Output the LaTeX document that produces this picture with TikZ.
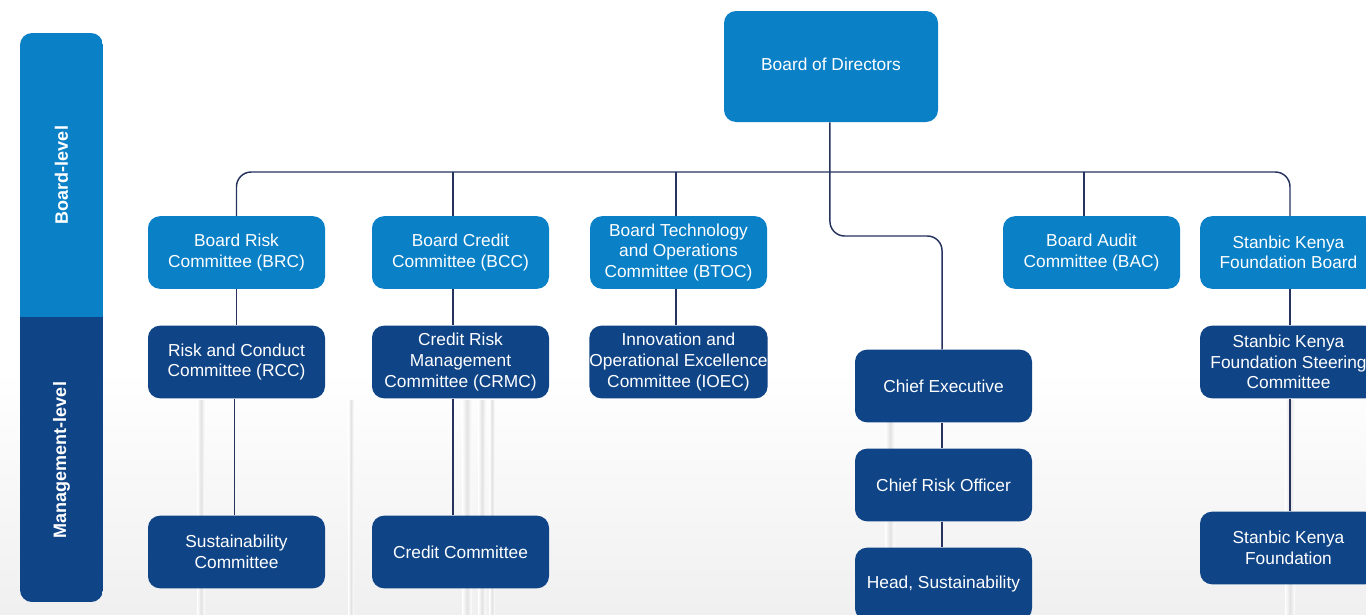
\documentclass[tikz,border=0pt]{standalone}
\usepackage{fontspec}
\setmainfont{Liberation Sans}
\definecolor{lblue}{HTML}{0A80C7}
\definecolor{dblue}{HTML}{0F4487}
\definecolor{navy}{HTML}{26335F}
\begin{document}
\begin{tikzpicture}[x=0.75pt,y=-0.75pt,
  box/.style={rounded corners=9pt, minimum width=132.75pt, minimum height=54.5pt,
    inner sep=0pt, align=center, text=white, font=\fontsize{13}{15.4}\selectfont},
  upper/.style={box, fill=lblue},
  lower/.style={box, fill=dblue},
  level/.style={rotate=90, text=white, font=\fontsize{13.5}{16}\selectfont\bfseries},
  link/.style={draw=navy, line width=1.1pt, rounded corners=11pt},
  streak/.style={left color=white!0, right color=white!0, middle color=gray!22, draw=none}]
\useasboundingbox (0,0) rectangle (1366,614);
% page background with the soft grey lower band
\fill[white] (0,0) rectangle (1366,614);
\shade[top color=white, bottom color=gray!12] (0,370) rectangle (1366,614);
\foreach \sx/\sw in {197/8, 348/6, 462/10, 478/8, 489/6, 885/10, 1285/10}
  \shade[streak] (\sx,400) rectangle ({\sx+\sw},614);

% level bar on the left
\begin{scope}
  \clip[rounded corners=9pt] (20,33) rectangle (103,602);
  \fill[lblue] (20,33) rectangle (103,317);
  \fill[dblue] (20,317) rectangle (103,602);
\end{scope}
\node[level] (lvlboard) at (61.5,175) {Board-level};
\node[level] (lvlmgmt) at (61.5,460) {Management-level};

% board
\node[upper, minimum width=160.5pt, minimum height=83.25pt] (bod) at (831,66.5) {\raisebox{3.4pt}{Board of Directors}};

% board committees
\node[upper] (brc)  at (236.5,252.5)  {Board Risk\\Committee (BRC)};
\node[upper] (bcc)  at (460.5,252.5)  {Board Credit\\Committee (BCC)};
\node[upper] (btoc) at (678.5,252.5)  {Board Technology\\and Operations\\Committee (BTOC)};
\node[upper] (bac)  at (1091.5,252.5) {Board Audit\\Committee (BAC)};
\node[upper] (skfb) at (1288.5,252.5) {Stanbic Kenya\\Foundation Board};

% management committees
\node[lower] (rcc)   at (236.5,362)  {Risk and Conduct\\Committee (RCC)};
\node[lower] (crmc)  at (460.5,362)  {Credit Risk\\Management\\Committee (CRMC)};
\node[lower] (ioec)  at (678.5,362)  {Innovation and\\Operational Excellence\\Committee (IOEC)};
\node[lower] (skfsc) at (1288.5,362) {Stanbic Kenya\\Foundation Steering\\Committee};

\node[lower] (ceo)  at (943.5,386) {Chief Executive};
\node[lower] (cro)  at (943.5,485) {Chief Risk Officer};
\node[lower] (head) at (943.5,584) {Head, Sustainability};

\node[lower] (sust)   at (236.5,552)  {Sustainability\\Committee};
\node[lower] (credit) at (460.5,552)  {Credit Committee};
\node[lower] (skf)    at (1288.5,548) {Stanbic Kenya\\Foundation};

% connectors
\coordinate (bus) at (0,172);
\coordinate (jog) at (0,236);
\draw[link] (brc.north) -- (brc.north |- bus) -- ([xshift=1.1pt]skfb.north |- bus) -- ([xshift=1.1pt]skfb.north);
\draw[link] ([xshift=-5.6pt]bcc.north) -- ([xshift=-5.6pt]bcc.north |- bus);
\draw[link] ([xshift=-1.9pt]btoc.north) -- ([xshift=-1.9pt]btoc.north |- bus);
\draw[link] ([xshift=-5.6pt]bac.north) -- ([xshift=-5.6pt]bac.north |- bus);
\draw[link] ([xshift=-0.8pt]bod.south) -- ([xshift=-0.8pt]bod.south |- jog) -- ([xshift=-1.1pt]ceo.north |- jog) -- ([xshift=-1.1pt]ceo.north);

\draw[link] (brc.south) -- (rcc.north);
\draw[link] ([xshift=-1.5pt]rcc.south) -- ([xshift=-1.5pt]sust.north);
\draw[link] ([xshift=-5.6pt]bcc.south) -- ([xshift=-5.6pt]crmc.north);
\draw[link] ([xshift=-5.6pt]crmc.south) -- ([xshift=-5.6pt]credit.north);
\draw[link] ([xshift=-1.9pt]btoc.south) -- ([xshift=-1.9pt]ioec.north);
\draw[link] ([xshift=-1.1pt]ceo.south) -- ([xshift=-1.1pt]cro.north);
\draw[link] ([xshift=-1.1pt]cro.south) -- ([xshift=-1.1pt]head.north);
\draw[link] ([xshift=1.1pt]skfb.south) -- ([xshift=1.1pt]skfsc.north);
\draw[link] ([xshift=1.1pt]skfsc.south) -- ([xshift=1.1pt]skf.north);
\end{tikzpicture}
\end{document}
